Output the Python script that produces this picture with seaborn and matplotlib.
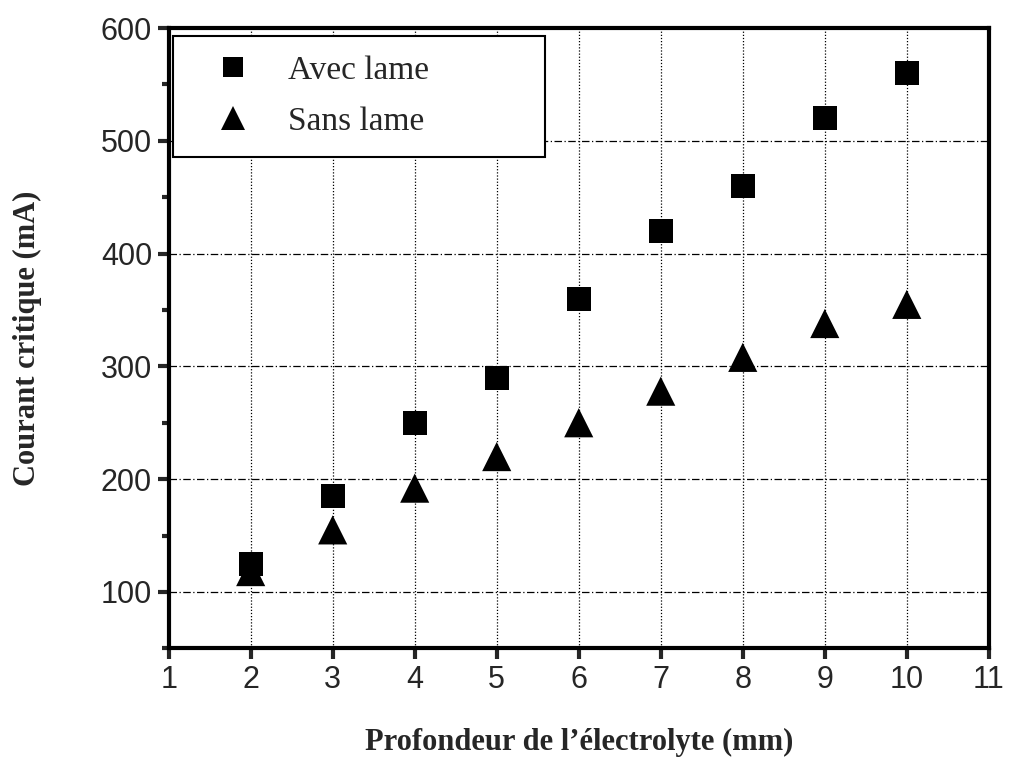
import pandas as pd
import matplotlib.pyplot as plt
import seaborn as sns
from matplotlib.ticker import MultipleLocator

# Data
depth_mm = [2, 3, 4, 5, 6, 7, 8, 9, 10]
avec_lame = [125, 185, 250, 290, 360, 420, 460, 520, 560]
sans_lame = [118, 155, 192, 220, 250, 278, 308, 338, 355]
series_names = ["Avec lame", "Sans lame"]

df = pd.concat([
    pd.DataFrame({"x": depth_mm, "y": avec_lame, "serie": series_names[0]}),
    pd.DataFrame({"x": depth_mm, "y": sans_lame, "serie": series_names[1]}),
])

sns.set_style("ticks")
plt.rcParams['font.family'] = ['Liberation Sans', 'DejaVu Sans']

fig = plt.figure(figsize=(10.1, 7.6), dpi=100)
ax = fig.add_axes([0.167, 0.147, 0.812, 0.816])

sns.scatterplot(data=df, x="x", y="y", style="serie", size="serie",
                markers={"Avec lame": "s", "Sans lame": "^"},
                sizes={"Avec lame": 300, "Sans lame": 440},
                color="black", edgecolor="black", linewidth=0, ax=ax, zorder=3)

ax.set_xlim(1, 11)
ax.set_ylim(50, 600)
ax.xaxis.set_major_locator(MultipleLocator(1))
ax.yaxis.set_major_locator(MultipleLocator(100))
ax.yaxis.set_minor_locator(MultipleLocator(50))

# grid: dotted vertical, dash-dot horizontal
for xv in range(2, 11):
    ax.axvline(xv, color="black", lw=0.9, ls=(0, (1, 1.5)), zorder=1)
for yv in range(100, 600, 100):
    ax.axhline(yv, color="black", lw=0.9, ls=(0, (6, 2, 1, 2)), zorder=1)

for sp in ax.spines.values():
    sp.set_linewidth(3)
    sp.set_color("black")
ax.tick_params(axis="both", which="major", direction="out", length=8, width=3, labelsize=22, pad=4)
ax.tick_params(axis="y", which="minor", direction="out", length=5, width=3)

ax.set_xlabel("Profondeur de l\u2019électrolyte (mm)", family="Liberation Serif", fontweight="bold",
              fontsize=22, labelpad=24)
ax.set_ylabel("Courant critique (mA)", family="Liberation Serif", fontweight="bold",
              fontsize=22, labelpad=42)

handles, labels = ax.get_legend_handles_labels()
leg = ax.legend(handles, labels, loc="upper left", bbox_to_anchor=(0.005, 0.988, 0.454, 0.0),
                mode="expand", frameon=True, fancybox=False,
                prop={"family": "Liberation Serif", "size": 24}, handletextpad=0.45,
                borderpad=0.6, labelspacing=0.6, borderaxespad=0, handlelength=2.4, markerscale=0.85)
leg.get_frame().set_edgecolor("black")
leg.get_frame().set_linewidth(1.5)
leg.get_frame().set_alpha(1)
for h in leg.legend_handles:
    h.set_color("black")

fig.savefig("out.png", dpi=100)
